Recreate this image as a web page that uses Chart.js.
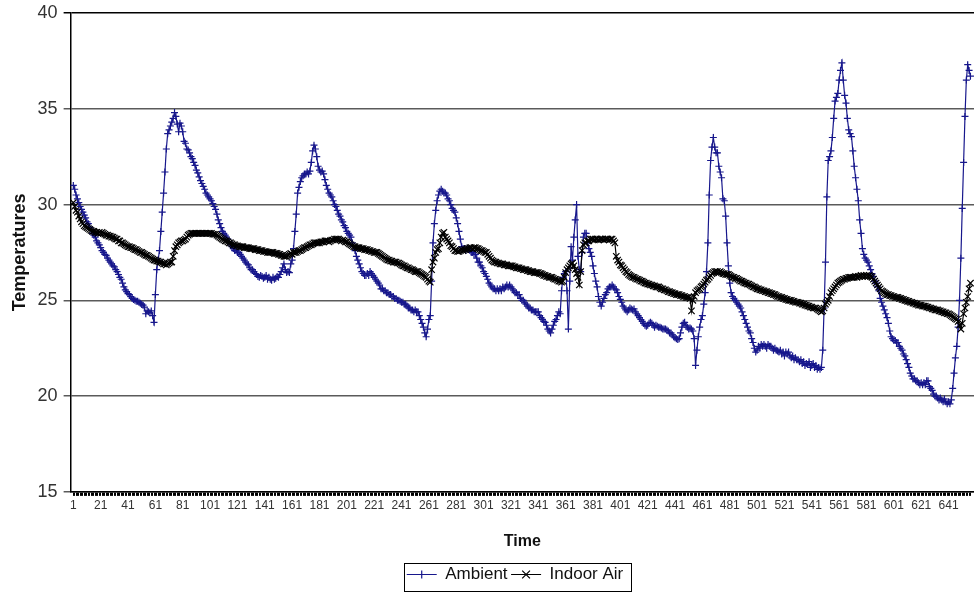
<!DOCTYPE html>
<html>
<head>
<meta charset="utf-8">
<script src="https://cdn.jsdelivr.net/npm/chart.js@4/dist/chart.umd.min.js"></script>
<style>
html,body{margin:0;padding:0;background:#fff;overflow:hidden}
#wrap{width:974px;height:593px;position:relative;overflow:hidden}
</style>
</head>
<body>
<div id="wrap"><canvas id="c" width="974" height="593"></canvas></div>
<script>
// ---- Data ----
const seriesNames = ['Ambient', 'Indoor Air'];

const ambient = [
31.0,30.8,30.5,30.3,30.1,29.9,29.75,29.6,29.45,29.3,
29.1,29.0,28.8,28.7,28.5,28.4,28.3,28.1,28.0,27.9,
27.75,27.6,27.5,27.4,27.35,27.2,27.1,27.0,26.9,26.8,
26.75,26.6,26.5,26.35,26.2,26.1,25.9,25.7,25.55,25.45,
25.35,25.3,25.2,25.1,25.05,25.0,24.95,24.95,24.9,24.85,
24.8,24.75,24.65,24.3,24.45,24.4,24.35,24.45,24.2,23.85,
25.3,26.6,27.1,27.6,28.6,29.6,30.6,31.7,32.9,33.7,
33.9,34.1,34.3,34.5,34.8,34.6,34.2,33.8,34.25,34.1,
33.8,33.3,33.2,32.9,32.85,32.7,32.5,32.4,32.2,32.05,
31.8,31.65,31.45,31.25,31.1,30.95,30.8,30.6,30.5,30.4,
30.3,30.2,30.05,29.9,29.75,29.5,29.2,29.0,28.8,28.6,
28.5,28.4,28.3,28.2,28.05,27.9,27.8,27.7,27.6,27.6,
27.5,27.5,27.4,27.3,27.2,27.1,27.0,26.9,26.85,26.7,
26.6,26.6,26.5,26.4,26.35,26.25,26.2,26.3,26.25,26.15,
26.2,26.3,26.1,26.2,26.1,26.05,26.2,26.1,26.15,26.25,
26.2,26.35,26.5,26.7,26.9,26.6,26.45,26.5,26.45,26.9,
27.1,27.7,28.6,29.5,30.6,30.9,31.2,31.4,31.5,31.6,
31.6,31.7,31.6,31.75,32.2,32.8,33.1,32.9,32.5,32.0,
31.8,31.7,31.75,31.6,31.3,31.0,30.8,30.6,30.5,30.4,
30.2,30.0,29.9,29.7,29.5,29.4,29.2,29.1,28.9,28.8,
28.6,28.5,28.4,28.3,28.0,27.8,27.6,27.3,27.1,26.9,
26.7,26.5,26.4,26.3,26.3,26.4,26.3,26.5,26.4,26.3,
26.2,26.1,26.0,25.9,25.8,25.6,25.6,25.5,25.5,25.4,
25.4,25.3,25.3,25.2,25.2,25.1,25.1,25.0,25.0,24.95,
24.9,24.9,24.8,24.8,24.7,24.6,24.6,24.5,24.5,24.4,
24.5,24.4,24.4,24.2,24.0,23.8,23.6,23.3,23.1,23.5,
24.0,24.2,26.0,28.0,29.0,29.7,30.2,30.5,30.7,30.8,
30.7,30.6,30.6,30.5,30.3,30.2,30.0,29.8,29.7,29.6,
29.3,29.0,28.6,28.2,27.8,27.7,27.7,27.6,27.7,27.65,
27.6,27.5,27.5,27.4,27.4,27.2,27.0,27.0,26.8,26.7,
26.5,26.4,26.25,26.1,25.9,25.8,25.7,25.6,25.6,25.5,
25.6,25.5,25.6,25.5,25.7,25.6,25.7,25.8,25.7,25.8,
25.7,25.6,25.5,25.4,25.4,25.3,25.3,25.1,25.0,25.0,
24.9,24.8,24.7,24.6,24.6,24.5,24.5,24.4,24.4,24.4,
24.4,24.2,24.1,24.0,23.9,23.85,23.7,23.5,23.4,23.3,
23.5,23.7,23.9,24.0,24.2,24.4,24.3,25.5,26.2,26.4,
26.5,25.5,23.5,26.0,27.8,27.1,28.3,29.2,30.0,27.3,
26.6,26.5,27.5,28.3,28.5,28.5,28.0,27.7,27.5,27.3,
26.8,26.4,26.0,25.7,25.2,24.9,24.7,24.9,25.1,25.3,
25.4,25.6,25.7,25.7,25.8,25.7,25.6,25.55,25.4,25.2,
25.05,24.9,24.7,24.6,24.5,24.4,24.5,24.6,24.55,24.5,
24.55,24.4,24.3,24.2,24.1,24.0,23.9,23.8,23.7,23.65,
23.7,23.8,23.85,23.8,23.7,23.6,23.7,23.65,23.6,23.6,
23.55,23.5,23.5,23.5,23.45,23.4,23.3,23.3,23.2,23.1,
23.05,23.0,22.95,23.0,23.3,23.6,23.8,23.85,23.7,23.6,
23.5,23.55,23.5,23.4,23.0,21.6,22.4,23.1,23.6,24.0,
24.2,24.8,25.4,26.5,28.0,30.5,32.3,33.0,33.5,33.0,
32.7,32.7,32.0,31.7,31.4,30.3,30.2,29.4,28.0,26.8,
25.9,25.4,25.2,25.1,25.0,24.9,24.8,24.7,24.6,24.4,
24.2,24.0,23.8,23.6,23.4,23.3,23.0,22.8,22.5,22.3,
22.4,22.6,22.5,22.7,22.6,22.7,22.6,22.5,22.7,22.6,
22.6,22.5,22.4,22.5,22.4,22.35,22.3,22.4,22.2,22.3,
22.1,22.3,22.2,22.3,22.1,22.0,22.1,21.9,22.0,21.9,
21.9,21.8,21.9,21.7,21.8,21.6,21.7,21.65,21.8,21.5,
21.6,21.7,21.5,21.6,21.4,21.5,21.4,21.5,22.4,24.6,
27.0,30.4,32.3,32.5,32.8,33.5,34.5,35.4,35.6,35.8,
36.5,37.0,37.4,36.5,35.7,35.3,34.5,33.9,33.7,33.55,
32.8,32.0,31.4,30.8,30.2,29.2,28.5,27.7,27.4,27.2,
27.1,27.0,26.8,26.6,26.4,26.25,26.0,25.9,25.7,25.5,
25.1,24.9,24.7,24.5,24.3,24.1,23.8,23.4,23.1,23.0,
22.9,22.9,22.8,22.8,22.6,22.5,22.4,22.2,22.1,21.9,
21.7,21.5,21.2,21.05,20.9,20.9,20.8,20.8,20.7,20.6,
20.7,20.6,20.7,20.6,20.8,20.8,20.5,20.4,20.3,20.1,
20.0,20.0,19.9,19.8,19.9,19.8,19.7,19.85,19.7,19.6,
19.7,19.6,19.8,20.4,21.2,22.0,22.6,23.6,25.0,27.2,
29.8,32.2,34.6,36.5,37.3,37.0,36.7
];

const indoorAir = [
30.1,29.9,29.7,29.6,29.4,29.25,29.1,29.0,28.9,28.85,
28.8,28.75,28.7,28.65,28.6,28.6,28.55,28.55,28.5,28.55,
28.5,28.55,28.5,28.45,28.4,28.4,28.35,28.35,28.3,28.3,
28.25,28.2,28.2,28.1,28.1,28.0,28.0,27.95,27.9,27.85,
27.8,27.8,27.75,27.75,27.7,27.65,27.65,27.6,27.55,27.5,
27.5,27.45,27.4,27.35,27.35,27.3,27.25,27.2,27.15,27.1,
27.1,27.05,27.05,27.0,27.0,26.95,26.9,26.9,26.85,26.9,
26.95,27.0,27.0,27.3,27.6,27.8,27.9,28.0,28.05,28.1,
28.1,28.15,28.2,28.3,28.4,28.45,28.5,28.5,28.5,28.5,
28.5,28.5,28.5,28.5,28.5,28.5,28.5,28.5,28.5,28.5,
28.5,28.5,28.45,28.45,28.45,28.4,28.35,28.3,28.25,28.2,
28.15,28.1,28.1,28.05,28.0,28.0,27.95,27.9,27.9,27.85,
27.85,27.8,27.8,27.8,27.8,27.75,27.75,27.75,27.75,27.7,
27.7,27.7,27.7,27.65,27.65,27.65,27.6,27.6,27.6,27.55,
27.55,27.55,27.5,27.5,27.5,27.5,27.5,27.45,27.45,27.45,
27.4,27.4,27.35,27.35,27.3,27.3,27.3,27.35,27.4,27.45,
27.4,27.5,27.5,27.5,27.55,27.6,27.6,27.65,27.7,27.75,
27.75,27.8,27.85,27.9,27.9,27.95,28.0,28.0,28.0,28.0,
28.0,28.05,28.05,28.05,28.1,28.1,28.1,28.05,28.1,28.15,
28.15,28.2,28.2,28.2,28.2,28.15,28.1,28.15,28.1,28.05,
28.05,28.0,27.95,27.9,27.85,27.8,27.8,27.75,27.75,27.75,
27.7,27.7,27.7,27.65,27.65,27.65,27.6,27.6,27.55,27.55,
27.5,27.5,27.5,27.45,27.4,27.35,27.3,27.25,27.2,27.15,
27.1,27.1,27.05,27.05,27.0,27.0,27.0,26.95,26.95,26.9,
26.85,26.8,26.8,26.75,26.7,26.7,26.65,26.6,26.6,26.55,
26.5,26.5,26.5,26.45,26.4,26.35,26.3,26.25,26.2,26.1,
26.0,25.95,26.6,27.0,27.2,27.5,27.65,27.7,28.0,28.3,
28.5,28.55,28.3,28.2,28.1,28.0,27.85,27.8,27.7,27.6,
27.6,27.55,27.55,27.6,27.65,27.6,27.65,27.65,27.7,27.7,
27.75,27.75,27.7,27.75,27.75,27.7,27.7,27.65,27.6,27.6,
27.55,27.5,27.5,27.4,27.3,27.2,27.1,27.05,27.0,27.0,
26.95,26.95,26.9,26.9,26.9,26.85,26.85,26.85,26.8,26.8,
26.8,26.8,26.75,26.75,26.7,26.7,26.7,26.65,26.65,26.6,
26.6,26.6,26.55,26.55,26.5,26.5,26.5,26.45,26.45,26.45,
26.45,26.4,26.4,26.35,26.3,26.3,26.25,26.25,26.2,26.2,
26.2,26.15,26.1,26.1,26.05,26.0,26.0,25.95,26.0,26.2,
26.45,26.6,26.7,26.8,26.9,26.95,26.8,26.6,26.4,26.2,
25.8,26.5,27.6,27.9,28.0,28.0,28.1,28.1,28.2,28.2,
28.2,28.15,28.2,28.2,28.15,28.2,28.2,28.2,28.15,28.2,
28.2,28.2,28.15,28.2,28.2,28.1,28.0,27.3,27.1,27.0,
26.85,26.8,26.7,26.6,26.5,26.45,26.35,26.3,26.25,26.2,
26.2,26.15,26.1,26.1,26.05,26.0,26.0,25.95,25.9,25.9,
25.85,25.85,25.8,25.8,25.75,25.75,25.7,25.7,25.7,25.65,
25.6,25.6,25.55,25.55,25.5,25.45,25.45,25.4,25.4,25.35,
25.35,25.3,25.3,25.3,25.25,25.25,25.2,25.2,25.15,25.15,
25.15,25.1,24.45,25.0,25.2,25.4,25.5,25.55,25.6,25.7,
25.75,25.85,25.95,26.05,26.1,26.2,26.3,26.4,26.45,26.5,
26.5,26.5,26.45,26.5,26.45,26.4,26.4,26.35,26.35,26.35,
26.3,26.25,26.2,26.2,26.15,26.15,26.1,26.05,26.0,26.0,
25.95,25.9,25.9,25.85,25.85,25.8,25.75,25.7,25.7,25.65,
25.6,25.6,25.55,25.55,25.5,25.5,25.45,25.45,25.4,25.4,
25.35,25.35,25.3,25.3,25.25,25.2,25.2,25.15,25.15,25.1,
25.1,25.05,25.05,25.0,25.0,25.0,24.95,24.95,24.9,24.9,
24.9,24.85,24.85,24.8,24.8,24.75,24.75,24.7,24.7,24.65,
24.65,24.6,24.6,24.6,24.55,24.5,24.45,24.4,24.45,24.6,
24.8,24.9,25.0,25.2,25.4,25.5,25.6,25.7,25.8,25.9,
25.95,26.0,26.05,26.1,26.1,26.15,26.15,26.2,26.2,26.2,
26.2,26.2,26.25,26.2,26.25,26.25,26.3,26.25,26.3,26.25,
26.3,26.25,26.3,26.25,26.2,26.1,26.0,25.9,25.8,25.7,
25.6,25.5,25.45,25.4,25.35,25.3,25.3,25.25,25.25,25.2,
25.2,25.15,25.15,25.15,25.1,25.1,25.05,25.05,25.0,25.0,
24.95,24.95,24.9,24.9,24.85,24.85,24.8,24.8,24.75,24.75,
24.75,24.7,24.7,24.7,24.65,24.65,24.6,24.6,24.55,24.55,
24.5,24.5,24.5,24.45,24.45,24.4,24.4,24.35,24.35,24.3,
24.3,24.25,24.2,24.15,24.1,24.05,24.0,23.9,23.7,23.5,
23.8,24.3,24.6,24.9,25.2,25.6,25.9
];

// time steps (categories) 1..N and the labelled ticks
const timeSteps = ambient.map((_, k) => k + 1);
const xTickLabels = [1,21,41,61,81,101,121,141,161,181,201,221,241,261,281,301,321,341,361,381,401,421,441,461,481,501,521,541,561,581,601,621,641];
const yTickValues = [15,20,25,30,35,40];

// ---- Chart ----
const FONT = "'Liberation Sans', Arial, Helvetica, sans-serif";
Chart.defaults.font.family = FONT;

const AMB_COLOR = '#17178c';
const IND_COLOR = '#000000';

function drawMarker(ctx, style, x, y, r) {
  ctx.beginPath();
  if (style === 'cross') {
    ctx.moveTo(x - r, y); ctx.lineTo(x + r, y);
    ctx.moveTo(x, y - r); ctx.lineTo(x, y + r);
  } else {
    const d = r * Math.SQRT1_2;
    ctx.moveTo(x - d, y - d); ctx.lineTo(x + d, y + d);
    ctx.moveTo(x - d, y + d); ctx.lineTo(x + d, y - d);
  }
  ctx.stroke();
}

const legendDeco = {
  id: 'legendDeco',
  afterLayout(chart) {
    const lg = chart.legend;
    if (lg) { lg.left += 26; lg.right += 26; }
  },
  afterDraw(chart) {
    const lg = chart.legend;
    if (!lg || !lg.legendHitBoxes || !lg.legendHitBoxes.length) return;
    const hb = lg.legendHitBoxes;
    const ctx = chart.ctx;
    const bw = lg.options.labels.pointStyleWidth;
    ctx.save();
    hb.forEach((b, k) => {
      const ds = chart.data.datasets[lg.legendItems[k].datasetIndex];
      ctx.strokeStyle = ds.borderColor;
      ctx.lineWidth = 1.2;
      const cy = b.top + b.height / 2;
      drawMarker(ctx, ds.pointStyle, b.left + bw / 2, cy, ds.pointStyle === 'cross' ? 4 : 5.5);
    });
    const l = Math.min(...hb.map(b => b.left)) - 3;
    const r = Math.max(...hb.map(b => b.left + b.width)) + 7;
    const t = Math.min(...hb.map(b => b.top)) - 3;
    const btm = Math.min(...hb.map(b => b.top)) + 24.5;
    ctx.strokeStyle = '#000';
    ctx.lineWidth = 1;
    ctx.strokeRect(Math.round(l) + 0.5, Math.round(t) + 0.5, Math.round(r - l), Math.round(btm - t));
    ctx.restore();
  }
};

new Chart(document.getElementById('c'), {
  type: 'line',
  data: {
    datasets: [
      {
        label: seriesNames[0],
        data: ambient.map((v, k) => ({x: timeSteps[k], y: v})),
        borderColor: AMB_COLOR,
        backgroundColor: AMB_COLOR,
        borderWidth: 1.2,
        pointStyle: 'cross',
        pointRadius: 3.5,
        pointBorderWidth: 1.2,
        pointBorderColor: AMB_COLOR,
        tension: 0,
        fill: false,
        order: 1
      },
      {
        label: seriesNames[1],
        data: indoorAir.map((v, k) => ({x: timeSteps[k], y: v})),
        borderColor: IND_COLOR,
        backgroundColor: IND_COLOR,
        borderWidth: 1.2,
        pointStyle: 'crossRot',
        pointRadius: 4.5,
        pointBorderWidth: 1.2,
        pointBorderColor: IND_COLOR,
        tension: 0,
        fill: false,
        order: 0
      }
    ]
  },
  options: {
    responsive: false,
    animation: false,
    events: [],
    layout: { autoPadding: false, padding: { left: 4, top: 13, right: 0, bottom: 0 } },
    plugins: {
      tooltip: { enabled: false },
      legend: {
        position: 'bottom',
        labels: {
          usePointStyle: true,
          pointStyle: 'line',
          pointStyleWidth: 30,
          boxHeight: 10,
          padding: 3.5,
          color: '#111',
          font: { size: 17, family: FONT },
          sort: (a, b) => a.datasetIndex - b.datasetIndex
        }
      }
    },
    scales: {
      x: {
        type: 'linear',
        min: -0.975,
        max: 659.6,
        afterBuildTicks: (scale) => { scale.ticks = timeSteps.map(v => ({ value: v })); },
        afterFit: (scale) => { scale.paddingRight = 0; scale.paddingLeft = 0; },
        ticks: {
          autoSkip: false,
          maxRotation: 0,
          minRotation: 0,
          padding: 3,
          color: '#333',
          font: { size: 12, family: FONT },
          callback: (v) => (xTickLabels.includes(v) ? String(v) : '')
        },
        grid: {
          drawOnChartArea: false,
          drawTicks: true,
          tickLength: 4,
          color: '#000',
          lineWidth: 1
        },
        border: { display: true, color: '#000', width: 1.5 },
        title: {
          display: true,
          text: 'Time',
          color: '#111',
          font: { size: 16, weight: 'bold', family: FONT },
          padding: { top: 16, bottom: 11 }
        }
      },
      y: {
        min: 15,
        max: 40,
        afterBuildTicks: (scale) => { scale.ticks = yTickValues.map(v => ({ value: v })); },
        afterFit: (scale) => { scale.paddingTop = 0; scale.paddingBottom = 0; },
        ticks: {
          padding: 6,
          color: '#333',
          font: { size: 18, family: FONT }
        },
        grid: {
          color: (c) => (c.tick && c.tick.value === 40 ? '#000' : '#5a5a5a'),
          lineWidth: 1.5,
          drawTicks: true,
          tickLength: 7
        },
        border: { display: true, color: '#000', width: 1.5 },
        title: {
          display: true,
          text: 'Temperatures',
          color: '#111',
          font: { size: 18, weight: 'bold', family: FONT },
          padding: { top: 5, bottom: 1 }
        }
      }
    }
  },
  plugins: [legendDeco]
});
</script>
</body>
</html>
